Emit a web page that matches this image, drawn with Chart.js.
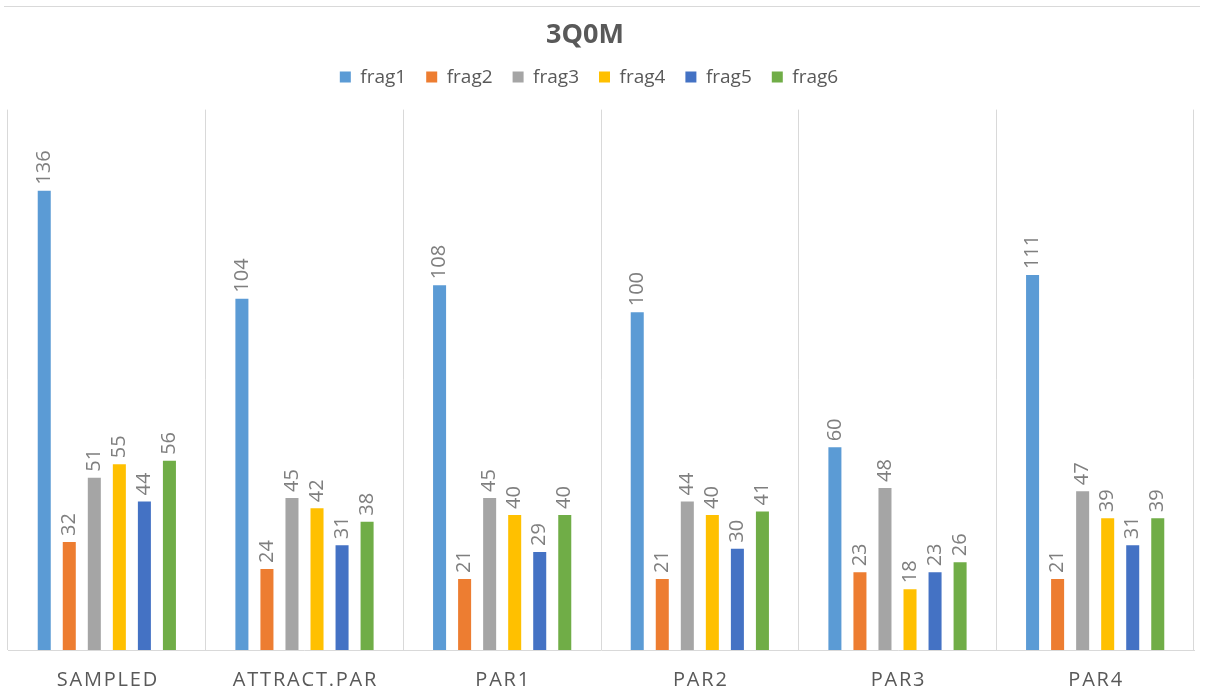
<!DOCTYPE html>
<html>
<head>
<meta charset="utf-8">
<title>3Q0M</title>
<script src="https://cdn.jsdelivr.net/npm/chart.js@4/dist/chart.umd.min.js"></script>
<style>
    html, body { margin: 0; padding: 0; background: #fff; }
    #wrap { position: relative; width: 1205px; height: 697px; }
    #frame { position: absolute; left: 4px; top: 6px; width: 1196px; height: 1px; background: #d9d9d9; }
    #chart { position: absolute; left: 0; top: 0; }
</style>
</head>
<body>
<div id="wrap">
    <div id="frame"></div>
    <canvas id="chart" width="1205" height="697"></canvas>
</div>
<script>
// Chart data
const categories = ['SAMPLED', 'ATTRACT.PAR', 'PAR1', 'PAR2', 'PAR3', 'PAR4'];
const seriesNames = ['frag1', 'frag2', 'frag3', 'frag4', 'frag5', 'frag6'];
const frag1 = [136, 104, 108, 100, 60, 111];
const frag2 = [32, 24, 21, 21, 23, 21];
const frag3 = [51, 45, 45, 44, 48, 47];
const frag4 = [55, 42, 40, 40, 18, 39];
const frag5 = [44, 31, 29, 30, 23, 31];
const frag6 = [56, 38, 40, 41, 26, 39];
const yMax = 160;

const seriesValues = [frag1, frag2, frag3, frag4, frag5, frag6];
const colors = ['#5B9BD5', '#ED7D31', '#A5A5A5', '#FFC000', '#4472C4', '#70AD47'];
const FONT = '"Open Sans", "DejaVu Sans", sans-serif';

/**
 * Draws the rotated value labels above each bar
 */
const valueLabels = {
    id: 'valueLabels',
    afterDatasetsDraw(chart) {
        const ctx = chart.ctx;
        ctx.save();
        ctx.font = '20px ' + FONT;
        ctx.fillStyle = '#7f7f7f';
        ctx.textAlign = 'left';
        ctx.textBaseline = 'middle';
        chart.data.datasets.forEach((ds, i) => {
            chart.getDatasetMeta(i).data.forEach((bar, j) => {
                ctx.save();
                ctx.translate(bar.x, bar.y - 6);
                ctx.rotate(-Math.PI / 2);
                ctx.fillText(String(ds.data[j]), 0, 0);
                ctx.restore();
            });
        });
        ctx.restore();
    }
};

/**
 * Category labels with letter spacing, placed from the x scale
 */
const categoryLabels = {
    id: 'categoryLabels',
    afterDraw(chart) {
        const ctx = chart.ctx;
        const x = chart.scales.x;
        ctx.save();
        ctx.font = '20px ' + FONT;
        ctx.letterSpacing = '1.8px';
        ctx.fillStyle = '#595959';
        ctx.textAlign = 'center';
        ctx.textBaseline = 'middle';
        categories.forEach((c, i) => {
            ctx.fillText(c, x.getPixelForValue(i) + 1, chart.chartArea.bottom + 30);
        });
        ctx.restore();
    }
};

// Extra room under the legend, and title/legend nudged left like the original
const headerTweaks = {
    id: 'headerTweaks',
    beforeInit(chart) {
        const legend = chart.legend;
        const fit = legend.fit;
        legend.fit = function () {
            fit.bind(legend)();
            this.height += 13;
        };
        const shift = (box, dx) => {
            if (!box) return;
            const draw = box.draw;
            box.draw = function () {
                chart.ctx.save();
                chart.ctx.translate(dx, 0);
                draw.apply(box, arguments);
                chart.ctx.restore();
            };
        };
        shift(legend, -12);
        shift(chart.titleBlock, -16);
    }
};

const ctx = document.getElementById('chart');
new Chart(ctx, {
    type: 'bar',
    data: {
        labels: categories,
        datasets: seriesNames.map((name, i) => ({
            label: name,
            data: seriesValues[i],
            backgroundColor: colors[i],
            categoryPercentage: 0.76,
            barPercentage: 0.52
        }))
    },
    options: {
        responsive: false,
        animation: false,
        layout: {
            padding: { left: 8, right: 11, top: 0, bottom: 47 }
        },
        plugins: {
            title: {
                display: true,
                text: '3Q0M',
                color: '#595959',
                font: { family: FONT, size: 27, weight: 'bold', lineHeight: 0.8 },
                padding: { top: 25, bottom: 1 }
            },
            legend: {
                position: 'top',
                labels: {
                    color: '#595959',
                    font: { family: FONT, size: 19 },
                    boxWidth: 11,
                    boxHeight: 11,
                    padding: 20
                }
            },
            tooltip: { enabled: false }
        },
        scales: {
            x: {
                grid: {
                    color: '#d9d9d9',
                    drawTicks: false,
                    offset: true
                },
                border: { color: '#d9d9d9' },
                ticks: { display: false }
            },
            y: {
                display: false,
                min: 0,
                max: yMax
            }
        }
    },
    plugins: [valueLabels, categoryLabels, headerTweaks]
});
</script>
</body>
</html>
